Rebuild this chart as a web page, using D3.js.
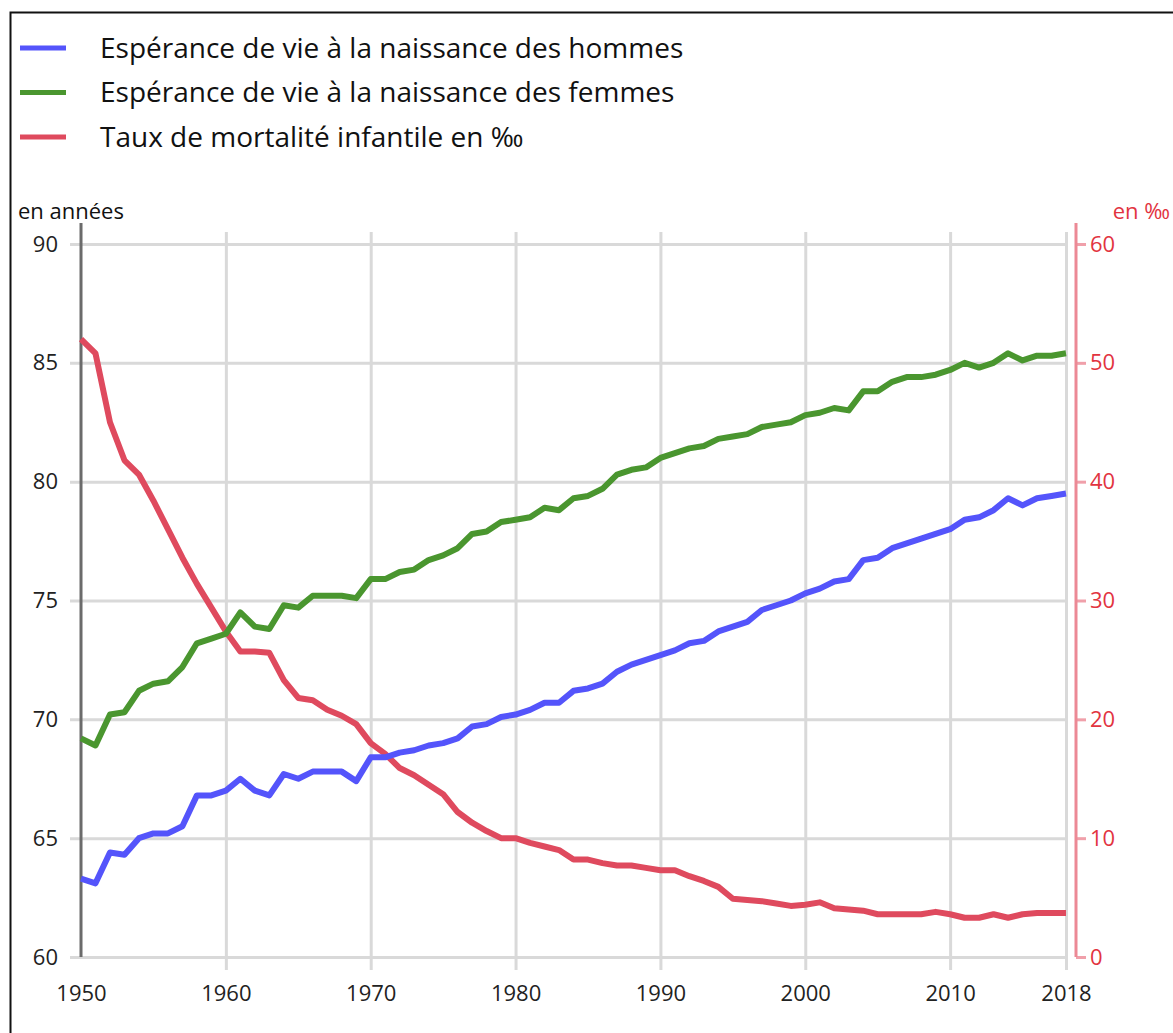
<!DOCTYPE html>
<html>
<head>
<meta charset="utf-8">
<script src="https://cdn.jsdelivr.net/npm/d3@7"></script>
<style>
  body { margin: 0; background: #fff; }
  text { font-family: "Open Sans", sans-serif; }
</style>
</head>
<body>
<div id="chart"></div>
<script>
// years 1950 -> 2018
var years = d3.range(1950, 2019);

// life expectancy at birth, men (years)
var hommes = [63.3, 63.1, 64.4, 64.3, 65.0, 65.2, 65.2, 65.5, 66.8, 66.8,
    67.0, 67.5, 67.0, 66.8, 67.7, 67.5, 67.8, 67.8, 67.8, 67.4,
    68.4, 68.4, 68.6, 68.7, 68.9, 69.0, 69.2, 69.7, 69.8, 70.1,
    70.2, 70.4, 70.7, 70.7, 71.2, 71.3, 71.5, 72.0, 72.3, 72.5,
    72.7, 72.9, 73.2, 73.3, 73.7, 73.9, 74.1, 74.6, 74.8, 75.0,
    75.3, 75.5, 75.8, 75.9, 76.7, 76.8, 77.2, 77.4, 77.6, 77.8,
    78.0, 78.4, 78.5, 78.8, 79.3, 79.0, 79.3, 79.4, 79.5];

// life expectancy at birth, women (years)
var femmes = [69.2, 68.9, 70.2, 70.3, 71.2, 71.5, 71.6, 72.2, 73.2, 73.4,
    73.6, 74.5, 73.9, 73.8, 74.8, 74.7, 75.2, 75.2, 75.2, 75.1,
    75.9, 75.9, 76.2, 76.3, 76.7, 76.9, 77.2, 77.8, 77.9, 78.3,
    78.4, 78.5, 78.9, 78.8, 79.3, 79.4, 79.7, 80.3, 80.5, 80.6,
    81.0, 81.2, 81.4, 81.5, 81.8, 81.9, 82.0, 82.3, 82.4, 82.5,
    82.8, 82.9, 83.1, 83.0, 83.8, 83.8, 84.2, 84.4, 84.4, 84.5,
    84.7, 85.0, 84.8, 85.0, 85.4, 85.1, 85.3, 85.3, 85.4];

// infant mortality (per mille)
var mortalite = [52.0, 50.8, 45.0, 41.8, 40.6, 38.4, 36.0, 33.6, 31.4, 29.4,
    27.4, 25.7, 25.7, 25.6, 23.3, 21.8, 21.6, 20.8, 20.3, 19.6,
    18.0, 17.1, 15.9, 15.3, 14.5, 13.7, 12.2, 11.3, 10.6, 10.0,
    10.0, 9.6, 9.3, 9.0, 8.2, 8.2, 7.9, 7.7, 7.7, 7.5,
    7.3, 7.3, 6.8, 6.4, 5.9, 4.9, 4.8, 4.7, 4.5, 4.3,
    4.4, 4.6, 4.1, 4.0, 3.9, 3.6, 3.6, 3.6, 3.6, 3.8,
    3.6, 3.3, 3.3, 3.6, 3.3, 3.6, 3.7, 3.7, 3.7];

var xTicks = [1950, 1960, 1970, 1980, 1990, 2000, 2010, 2018];
var leftTicks = [60, 65, 70, 75, 80, 85, 90];
var rightTicks = [0, 10, 20, 30, 40, 50, 60];

var legendLabels = ["Espérance de vie à la naissance des hommes",
    "Espérance de vie à la naissance des femmes",
    "Taux de mortalité infantile en ‰"];
var colors = ["#5454fb", "#4a962f", "#df4a5e"];

var WIDTH = 1173;
var HEIGHT = 1033;
var margin = { left: 81, right: 107, top: 244, bottom: 76 };
var width = WIDTH - margin.left - margin.right;
var height = HEIGHT - margin.top - margin.bottom;

var root = d3.select("#chart").append("svg")
    .attr("width", WIDTH)
    .attr("height", HEIGHT);

// outer frame (right and bottom edges fall outside the picture)
root.append("rect")
    .attr("x", 10.5).attr("y", 12.5)
    .attr("width", 1200).attr("height", 1100)
    .attr("fill", "none")
    .attr("stroke", "#111")
    .attr("stroke-width", 2);

// legend
var legend = root.selectAll(".legend")
    .data(legendLabels)
    .enter().append("g")
    .attr("class", "legend")
    .attr("transform", function(d, i) { return "translate(20," + (48 + i * 44.5) + ")"; });

legend.append("line")
    .attr("x1", 0).attr("x2", 46)
    .attr("stroke", function(d, i) { return colors[i]; })
    .attr("stroke-width", 5);

legend.append("text")
    .attr("x", 80)
    .attr("dy", "0.35em")
    .attr("font-size", 28)
    .attr("fill", "#111")
    .text(function(d) { return d; });

var svg = root.append("g")
    .attr("transform", "translate(" + margin.left + "," + margin.top + ")");

var xScale = d3.scaleLinear().domain([1950, 2018]).range([0, width]);
var yLeft = d3.scaleLinear().domain([60, 90]).range([height, 0]);
var yRight = d3.scaleLinear().domain([0, 60]).range([height, 0]);

// horizontal grid (with outer tick on the left)
svg.append("g")
    .attr("class", "grid y-grid")
    .call(d3.axisLeft(yLeft).tickValues(leftTicks).tickSize(-width).tickFormat(""))
    .call(function(g) {
        g.select(".domain").remove();
        g.selectAll("line").attr("x1", -11).attr("x2", width)
            .attr("stroke", "#d9d9d9").attr("stroke-width", 3);
    });

// vertical grid
svg.append("g")
    .attr("class", "grid x-grid")
    .call(d3.axisBottom(xScale).tickValues(xTicks.slice(1)).tickSize(-height).tickFormat(""))
    .call(function(g) {
        g.select(".domain").remove();
        g.selectAll("line").attr("y1", -12).attr("y2", height + 13)
            .attr("stroke", "#d9d9d9").attr("stroke-width", 3);
    });

// left axis
var yAxisL = svg.append("g")
    .attr("class", "axis y-axis")
    .call(d3.axisLeft(yLeft).tickValues(leftTicks).tickSize(0).tickPadding(23));
yAxisL.select(".domain").remove();
yAxisL.selectAll("text").attr("font-size", 22).attr("fill", "#222")
    .attr("font-family", "Open Sans, sans-serif");
svg.append("line")
    .attr("x1", 0).attr("x2", 0)
    .attr("y1", -21).attr("y2", height)
    .attr("stroke", "#6b6b6b")
    .attr("stroke-width", 3);

// bottom axis labels
var xAxis = svg.append("g")
    .attr("class", "axis x-axis")
    .attr("transform", "translate(0," + height + ")")
    .call(d3.axisBottom(xScale).tickValues(xTicks).tickFormat(d3.format("d")).tickSize(0).tickPadding(28));
xAxis.select(".domain").remove();
xAxis.selectAll("text").attr("font-size", 22).attr("fill", "#222")
    .attr("font-family", "Open Sans, sans-serif");

// right axis (mortality)
var yAxisR = svg.append("g")
    .attr("class", "axis y-axis-right")
    .attr("transform", "translate(" + (width + 10) + ",0)")
    .call(d3.axisRight(yRight).tickValues(rightTicks).tickSize(10).tickPadding(4));
yAxisR.select(".domain").remove();
yAxisR.selectAll("line").attr("stroke", "#f0a0aa").attr("stroke-width", 3);
yAxisR.selectAll("text").attr("font-size", 22).attr("fill", "#e2343f")
    .attr("font-family", "Open Sans, sans-serif");
yAxisR.append("line")
    .attr("x1", 0).attr("x2", 0)
    .attr("y1", -21).attr("y2", height)
    .attr("stroke", "#ec8995")
    .attr("stroke-width", 3);

// axis titles
root.append("text")
    .attr("x", 18).attr("y", 219)
    .attr("font-size", 22)
    .attr("fill", "#111")
    .text("en années");
root.append("text")
    .attr("x", 1170).attr("y", 219)
    .attr("text-anchor", "end")
    .attr("font-size", 22)
    .attr("fill", "#e2343f")
    .text("en ‰");

// lines
var lineLeft = d3.line()
    .x(function(d, i) { return xScale(years[i]); })
    .y(function(d) { return yLeft(d); });
var lineRight = d3.line()
    .x(function(d, i) { return xScale(years[i]); })
    .y(function(d) { return yRight(d); });

var series = [
    { values: mortalite, line: lineRight, color: colors[2] },
    { values: femmes, line: lineLeft, color: colors[1] },
    { values: hommes, line: lineLeft, color: colors[0] }
];

svg.selectAll(".series")
    .data(series)
    .enter().append("path")
    .attr("class", "series")
    .attr("d", function(d) { return d.line(d.values); })
    .attr("fill", "none")
    .attr("stroke", function(d) { return d.color; })
    .attr("stroke-width", 6)
    .attr("stroke-linejoin", "round")
    .attr("stroke-linecap", "butt");
</script>
</body>
</html>
